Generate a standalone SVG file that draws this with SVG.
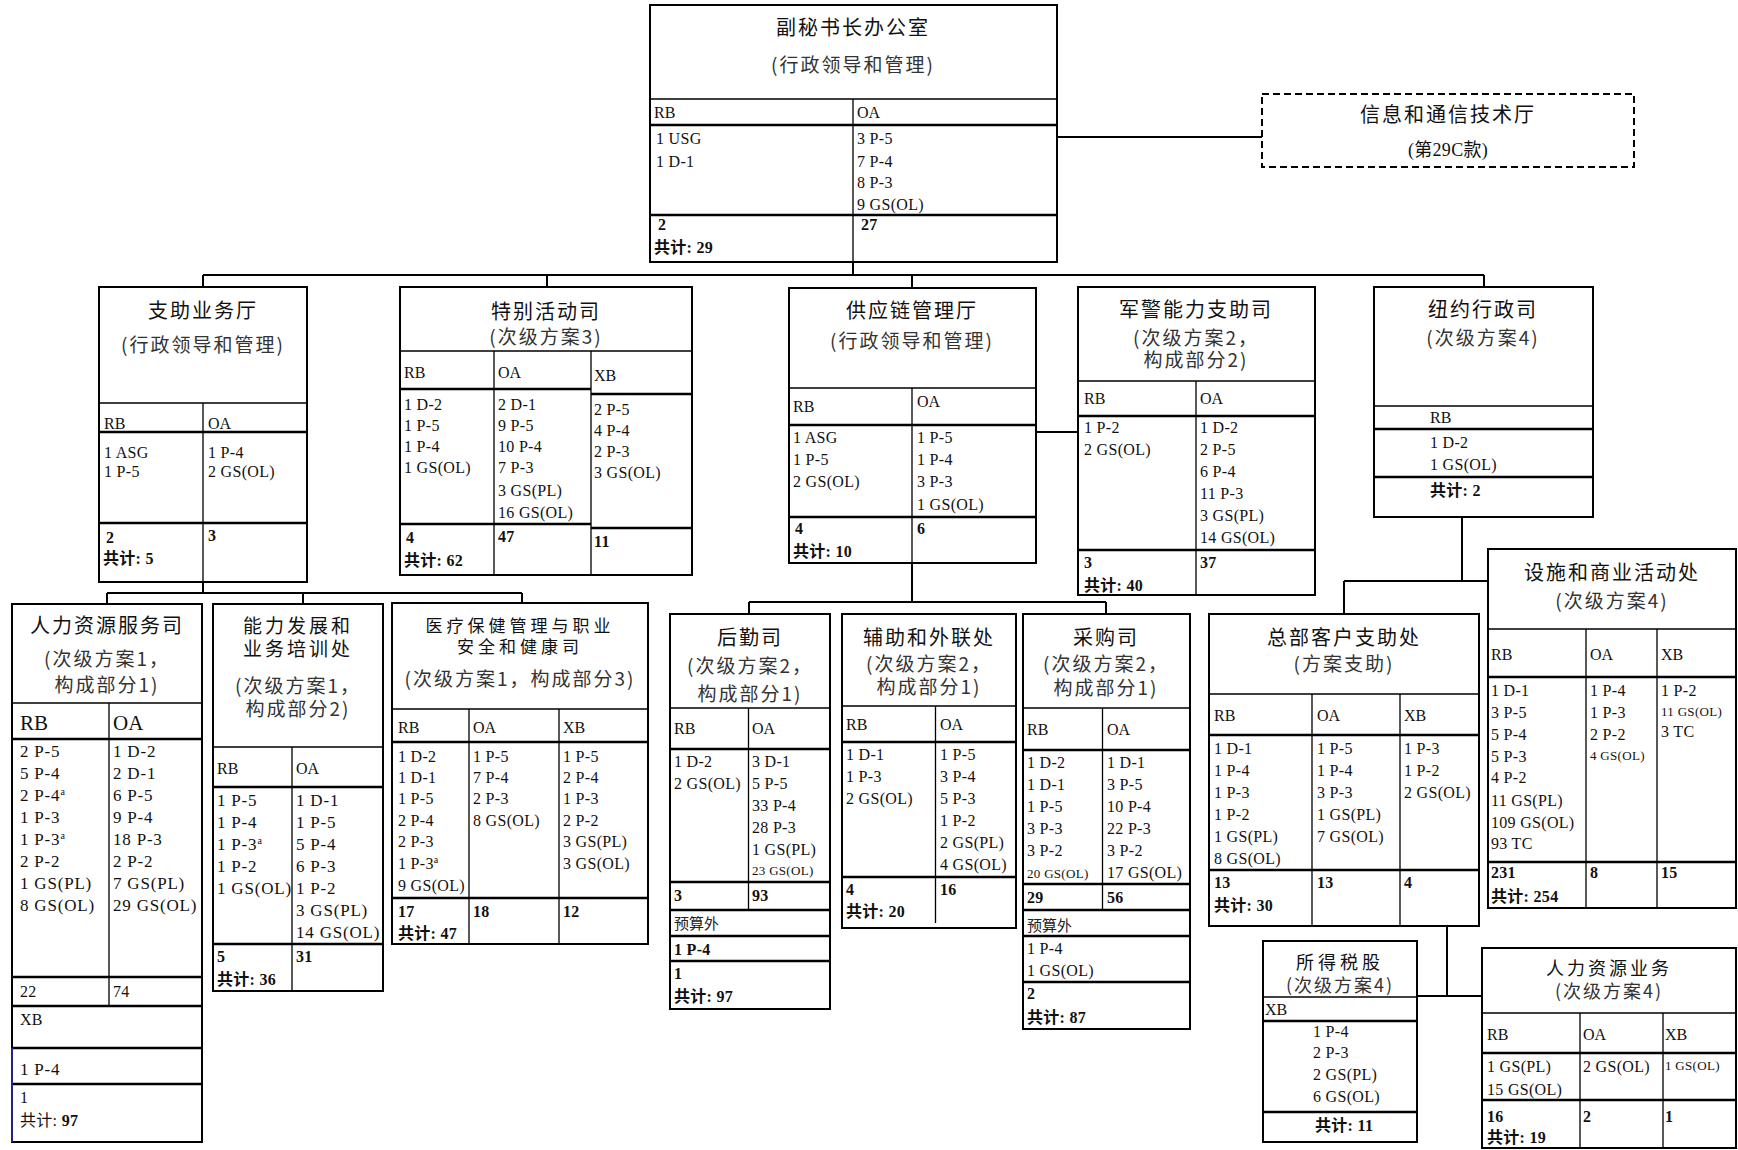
<svg xmlns="http://www.w3.org/2000/svg" width="1738" height="1150" viewBox="0 0 1738 1150">
<style>
.bx{fill:#fff;stroke:#000;stroke-width:2}
.ln{fill:none;stroke:#000;stroke-width:1.3}
.lt{fill:none;stroke:#000;stroke-width:2.6}
.cn{fill:none;stroke:#000;stroke-width:2}
.t{font-family:"Noto Sans CJK SC",sans-serif;font-size:20px;letter-spacing:2px;text-anchor:middle;fill:#111}
.s{font-family:"Noto Sans CJK SC",sans-serif;font-size:19px;letter-spacing:2px;text-anchor:middle;fill:#333}
.h{font-family:"Liberation Serif",serif;font-size:16px;fill:#111}
.d{font-family:"Liberation Serif","Noto Sans CJK SC",serif;font-size:16px;letter-spacing:0.3px;fill:#111}
.sm{font-size:13px}
.bd{font-weight:bold}
.lg{font-size:17px;letter-spacing:0.8px}
.hl{font-size:21px}
.cj{font-family:"Noto Sans CJK SC",sans-serif;font-size:15px;fill:#222}
</style>
<rect width="1738" height="1150" fill="#fff"/>
<g id="connectors">
<path class="cn" d="M853 262V275M203 275H1484M203 275V287M547 275V287M912 275V288M1484 275V287"/>
<path class="cn" d="M1057 137H1262"/>
<path class="cn" d="M1036 432H1078"/>
<path class="cn" d="M203 582V593M107 593H522M107 593V604M303 593V604M522 593V603"/>
<path class="cn" d="M912 563V602M749 602H1106M749 602V614M1106 602V614"/>
<path class="cn" d="M1462 517V581M1344 581H1488M1344 581V614"/>
<path class="cn" d="M1447 926V996M1417 996H1482"/>
</g>
<g id="n-usg">
<rect class="bx" x="650" y="5" width="407" height="257"/>
<path class="ln" d="M650 99H1057M853 99V262"/>
<path class="lt" d="M650 125H1057M650 215H1057"/>
<text class="t" x="853" y="35">副秘书长办公室</text>
<text class="s" x="853" y="72">(行政领导和管理)</text>
<text class="h" x="654" y="118">RB</text>
<text class="h" x="857" y="118">OA</text>
<text class="d"><tspan x="656" y="144">1 USG</tspan><tspan x="656" y="167">1 D-1</tspan></text>
<text class="d"><tspan x="857" y="144">3 P-5</tspan><tspan x="857" y="167">7 P-4</tspan><tspan x="857" y="188">8 P-3</tspan><tspan x="857" y="210">9 GS(OL)</tspan></text>
<text class="d bd" x="658" y="230">2</text>
<text class="d bd" x="861" y="230">27</text>
<text class="d bd" x="654" y="253">共计: 29</text>
</g>
<g id="n-ict">
<rect x="1262" y="94" width="372" height="73" fill="#fff" stroke="#000" stroke-width="2" stroke-dasharray="7 4"/>
<text class="t" x="1448" y="122">信息和通信技术厅</text>
<text class="d" x="1448" y="156" text-anchor="middle" style="font-size:18px">(第29C款)</text>
</g>
<g id="n-support">
<rect class="bx" x="99" y="287" width="208" height="295"/>
<path class="ln" d="M99 403H307M203 403V582"/>
<path class="lt" d="M99 432H307M99 523H307"/>
<text class="t" x="203" y="318">支助业务厅</text>
<text class="s" x="203" y="352">(行政领导和管理)</text>
<text class="h" x="104" y="429">RB</text>
<text class="h" x="208" y="429">OA</text>
<text class="d"><tspan x="104" y="458">1 ASG</tspan><tspan x="104" y="477">1 P-5</tspan></text>
<text class="d"><tspan x="208" y="458">1 P-4</tspan><tspan x="208" y="477">2 GS(OL)</tspan></text>
<text class="d bd" x="106" y="543">2</text>
<text class="d bd" x="208" y="541">3</text>
<text class="d bd" x="103" y="564">共计: 5</text>
</g>
<g id="n-special">
<rect class="bx" x="400" y="287" width="292" height="288"/>
<path class="ln" d="M400 351H692M494 351V575M591 351V575"/>
<path class="lt" d="M400 389H591M591 394H692M400 524H591M591 528H692"/>
<text class="t" x="546" y="319">特别活动司</text>
<text class="s" x="546" y="344">(次级方案3)</text>
<text class="h" x="404" y="378">RB</text>
<text class="h" x="498" y="378">OA</text>
<text class="h" x="594" y="381">XB</text>
<text class="d"><tspan x="404" y="410">1 D-2</tspan><tspan x="404" y="431">1 P-5</tspan><tspan x="404" y="452">1 P-4</tspan><tspan x="404" y="473">1 GS(OL)</tspan></text>
<text class="d"><tspan x="498" y="410">2 D-1</tspan><tspan x="498" y="431">9 P-5</tspan><tspan x="498" y="452">10 P-4</tspan><tspan x="498" y="473">7 P-3</tspan><tspan x="498" y="496">3 GS(PL)</tspan><tspan x="498" y="518">16 GS(OL)</tspan></text>
<text class="d"><tspan x="594" y="415">2 P-5</tspan><tspan x="594" y="436">4 P-4</tspan><tspan x="594" y="457">2 P-3</tspan><tspan x="594" y="478">3 GS(OL)</tspan></text>
<text class="d bd" x="406" y="543">4</text>
<text class="d bd" x="498" y="542">47</text>
<text class="d bd" x="594" y="547">11</text>
<text class="d bd" x="404" y="566">共计: 62</text>
</g>
<g id="n-supply">
<rect class="bx" x="789" y="288" width="247" height="275"/>
<path class="ln" d="M789 388H1036M912 388V563"/>
<path class="lt" d="M789 425H1036M789 517H1036"/>
<text class="t" x="912" y="318">供应链管理厅</text>
<text class="s" x="912" y="348">(行政领导和管理)</text>
<text class="h" x="793" y="412">RB</text>
<text class="h" x="917" y="407">OA</text>
<text class="d"><tspan x="793" y="443">1 ASG</tspan><tspan x="793" y="465">1 P-5</tspan><tspan x="793" y="487">2 GS(OL)</tspan></text>
<text class="d"><tspan x="917" y="443">1 P-5</tspan><tspan x="917" y="465">1 P-4</tspan><tspan x="917" y="487">3 P-3</tspan><tspan x="917" y="510">1 GS(OL)</tspan></text>
<text class="d bd" x="795" y="534">4</text>
<text class="d bd" x="917" y="534">6</text>
<text class="d bd" x="793" y="557">共计: 10</text>
</g>
<g id="n-police">
<rect class="bx" x="1078" y="287" width="237" height="308"/>
<path class="ln" d="M1078 381H1315M1196 381V595"/>
<path class="lt" d="M1078 416H1315M1078 550H1315"/>
<text class="t" x="1196" y="317">军警能力支助司</text>
<text class="s" x="1196" y="345">(次级方案2，</text>
<text class="s" x="1196" y="367">构成部分2)</text>
<text class="h" x="1084" y="404">RB</text>
<text class="h" x="1200" y="404">OA</text>
<text class="d"><tspan x="1084" y="433">1 P-2</tspan><tspan x="1084" y="455">2 GS(OL)</tspan></text>
<text class="d"><tspan x="1200" y="433">1 D-2</tspan><tspan x="1200" y="455">2 P-5</tspan><tspan x="1200" y="477">6 P-4</tspan><tspan x="1200" y="499">11 P-3</tspan><tspan x="1200" y="521">3 GS(PL)</tspan><tspan x="1200" y="543">14 GS(OL)</tspan></text>
<text class="d bd" x="1084" y="568">3</text>
<text class="d bd" x="1200" y="568">37</text>
<text class="d bd" x="1084" y="591">共计: 40</text>
</g>
<g id="n-ny">
<rect class="bx" x="1374" y="287" width="219" height="230"/>
<path class="ln" d="M1374 406H1593"/>
<path class="lt" d="M1374 429H1593M1374 477H1593"/>
<text class="t" x="1483" y="317">纽约行政司</text>
<text class="s" x="1483" y="345">(次级方案4)</text>
<text class="h" x="1430" y="423">RB</text>
<text class="d"><tspan x="1430" y="448">1 D-2</tspan><tspan x="1430" y="470">1 GS(OL)</tspan></text>
<text class="d bd" x="1430" y="496">共计: 2</text>
</g>
<g id="n-hr">
<rect class="bx" x="12" y="604" width="190" height="538"/>
<path class="ln" d="M12 703H202M109 703V1006"/>
<path class="lt" d="M12 739H202M12 977H202M12 1006H202M12 1048H202M12 1084H202"/>
<path d="M12 1048V1142" stroke="#22228a" stroke-width="2"/>
<text class="t" x="107" y="633">人力资源服务司</text>
<text class="s" x="107" y="666">(次级方案1，</text>
<text class="s" x="107" y="692">构成部分1)</text>
<text class="h hl" x="20" y="730">RB</text>
<text class="h hl" x="113" y="730">OA</text>
<text class="d lg"><tspan x="20" y="757">2 P-5</tspan><tspan x="20" y="779">5 P-4</tspan><tspan x="20" y="801">2 P-4<tspan font-size="10" dy="-6">a</tspan></tspan><tspan x="20" y="823">1 P-3</tspan><tspan x="20" y="845">1 P-3<tspan font-size="10" dy="-6">a</tspan></tspan><tspan x="20" y="867">2 P-2</tspan><tspan x="20" y="889">1 GS(PL)</tspan><tspan x="20" y="911">8 GS(OL)</tspan></text>
<text class="d lg"><tspan x="113" y="757">1 D-2</tspan><tspan x="113" y="779">2 D-1</tspan><tspan x="113" y="801">6 P-5</tspan><tspan x="113" y="823">9 P-4</tspan><tspan x="113" y="845">18 P-3</tspan><tspan x="113" y="867">2 P-2</tspan><tspan x="113" y="889">7 GS(PL)</tspan><tspan x="113" y="911">29 GS(OL)</tspan></text>
<text class="d" x="20" y="997">22</text>
<text class="d" x="113" y="997">74</text>
<text class="d" x="20" y="1025">XB</text>
<text class="d lg" x="20" y="1075">1 P-4</text>
<text class="d" x="20" y="1103">1</text>
<text class="d" x="20" y="1126">共计: <tspan class="bd">97</tspan></text>
</g>
<g id="n-capacity">
<rect class="bx" x="213" y="604" width="170" height="387"/>
<path class="ln" d="M213 747H383M292 747V991"/>
<path class="lt" d="M213 787H383M213 944H383"/>
<text class="t" x="298" y="633" style="font-size:19px;letter-spacing:3px">能力发展和</text>
<text class="t" x="298" y="656" style="font-size:19px;letter-spacing:3px">业务培训处</text>
<text class="s" x="298" y="693">(次级方案1，</text>
<text class="s" x="298" y="716">构成部分2)</text>
<text class="h" x="217" y="774">RB</text>
<text class="h" x="296" y="774">OA</text>
<text class="d lg"><tspan x="217" y="806">1 P-5</tspan><tspan x="217" y="828">1 P-4</tspan><tspan x="217" y="850">1 P-3<tspan font-size="10" dy="-6">a</tspan></tspan><tspan x="217" y="872">1 P-2</tspan><tspan x="217" y="894">1 GS(OL)</tspan></text>
<text class="d lg"><tspan x="296" y="806">1 D-1</tspan><tspan x="296" y="828">1 P-5</tspan><tspan x="296" y="850">5 P-4</tspan><tspan x="296" y="872">6 P-3</tspan><tspan x="296" y="894">1 P-2</tspan><tspan x="296" y="916">3 GS(PL)</tspan><tspan x="296" y="938">14 GS(OL)</tspan></text>
<text class="d bd" x="217" y="962">5</text>
<text class="d bd" x="296" y="962">31</text>
<text class="d bd" x="217" y="985">共计: 36</text>
</g>
<g id="n-medical">
<rect class="bx" x="392" y="603" width="256" height="341"/>
<path class="ln" d="M392 709H648M469 709V944M559 709V944"/>
<path class="lt" d="M392 742H648M392 898H648"/>
<text class="t" x="520" y="632" style="font-size:17px;letter-spacing:4px">医疗保健管理与职业</text>
<text class="t" x="520" y="653" style="font-size:17px;letter-spacing:4px">安全和健康司</text>
<text class="s" x="520" y="686">(次级方案1，构成部分3)</text>
<text class="h" x="398" y="733">RB</text>
<text class="h" x="473" y="733">OA</text>
<text class="h" x="563" y="733">XB</text>
<text class="d"><tspan x="398" y="762">1 D-2</tspan><tspan x="398" y="783">1 D-1</tspan><tspan x="398" y="804">1 P-5</tspan><tspan x="398" y="826">2 P-4</tspan><tspan x="398" y="847">2 P-3</tspan><tspan x="398" y="869">1 P-3<tspan font-size="10" dy="-6">a</tspan></tspan><tspan x="398" y="891">9 GS(OL)</tspan></text>
<text class="d"><tspan x="473" y="762">1 P-5</tspan><tspan x="473" y="783">7 P-4</tspan><tspan x="473" y="804">2 P-3</tspan><tspan x="473" y="826">8 GS(OL)</tspan></text>
<text class="d"><tspan x="563" y="762">1 P-5</tspan><tspan x="563" y="783">2 P-4</tspan><tspan x="563" y="804">1 P-3</tspan><tspan x="563" y="826">2 P-2</tspan><tspan x="563" y="847">3 GS(PL)</tspan><tspan x="563" y="869">3 GS(OL)</tspan></text>
<text class="d bd" x="398" y="917">17</text>
<text class="d bd" x="473" y="917">18</text>
<text class="d bd" x="563" y="917">12</text>
<text class="d bd" x="398" y="939">共计: 47</text>
</g>
<g id="n-logistics">
<rect class="bx" x="670" y="614" width="160" height="395"/>
<path class="ln" d="M670 708H830M748.5 708V910"/>
<path class="lt" d="M670 749H830M670 882H830M670 910H830M670 936H830M670 961H830"/>
<text class="t" x="750" y="645">后勤司</text>
<text class="s" x="750" y="673">(次级方案2，</text>
<text class="s" x="750" y="701">构成部分1)</text>
<text class="h" x="674" y="734">RB</text>
<text class="h" x="752" y="734">OA</text>
<text class="d"><tspan x="674" y="767">1 D-2</tspan><tspan x="674" y="789">2 GS(OL)</tspan></text>
<text class="d"><tspan x="752" y="767">3 D-1</tspan><tspan x="752" y="789">5 P-5</tspan><tspan x="752" y="811">33 P-4</tspan><tspan x="752" y="833">28 P-3</tspan><tspan x="752" y="855">1 GS(PL)</tspan><tspan x="752" y="875" class="sm">23 GS(OL)</tspan></text>
<text class="d bd" x="674" y="901">3</text>
<text class="d bd" x="752" y="901">93</text>
<text class="cj" x="674" y="929">预算外</text>
<text class="d bd" x="674" y="955">1 P-4</text>
<text class="d bd" x="674" y="979">1</text>
<text class="d bd" x="674" y="1002">共计: 97</text>
</g>
<g id="n-auxiliary">
<rect class="bx" x="842" y="614" width="174" height="314"/>
<path class="ln" d="M842 706H1016M935.5 706V923"/>
<path class="lt" d="M842 742H1016M842 877H1016"/>
<text class="t" x="929" y="645">辅助和外联处</text>
<text class="s" x="929" y="671">(次级方案2，</text>
<text class="s" x="929" y="694">构成部分1)</text>
<text class="h" x="846" y="730">RB</text>
<text class="h" x="940" y="730">OA</text>
<text class="d"><tspan x="846" y="760">1 D-1</tspan><tspan x="846" y="782">1 P-3</tspan><tspan x="846" y="804">2 GS(OL)</tspan></text>
<text class="d"><tspan x="940" y="760">1 P-5</tspan><tspan x="940" y="782">3 P-4</tspan><tspan x="940" y="804">5 P-3</tspan><tspan x="940" y="826">1 P-2</tspan><tspan x="940" y="848">2 GS(PL)</tspan><tspan x="940" y="870">4 GS(OL)</tspan></text>
<text class="d bd" x="846" y="895">4</text>
<text class="d bd" x="940" y="895">16</text>
<text class="d bd" x="846" y="917">共计: 20</text>
</g>
<g id="n-procurement">
<rect class="bx" x="1023" y="614" width="167" height="415"/>
<path class="ln" d="M1023 708H1190M1102.5 708V910"/>
<path class="lt" d="M1023 750H1190M1023 884H1190M1023 910H1190M1023 936H1190M1023 982H1190"/>
<text class="t" x="1106" y="645">采购司</text>
<text class="s" x="1106" y="671">(次级方案2，</text>
<text class="s" x="1106" y="695">构成部分1)</text>
<text class="h" x="1027" y="735">RB</text>
<text class="h" x="1107" y="735">OA</text>
<text class="d"><tspan x="1027" y="768">1 D-2</tspan><tspan x="1027" y="790">1 D-1</tspan><tspan x="1027" y="812">1 P-5</tspan><tspan x="1027" y="834">3 P-3</tspan><tspan x="1027" y="856">3 P-2</tspan><tspan x="1027" y="878" class="sm">20 GS(OL)</tspan></text>
<text class="d"><tspan x="1107" y="768">1 D-1</tspan><tspan x="1107" y="790">3 P-5</tspan><tspan x="1107" y="812">10 P-4</tspan><tspan x="1107" y="834">22 P-3</tspan><tspan x="1107" y="856">3 P-2</tspan><tspan x="1107" y="878">17 GS(OL)</tspan></text>
<text class="d bd" x="1027" y="903">29</text>
<text class="d bd" x="1107" y="903">56</text>
<text class="cj" x="1027" y="931" fill="#555">预算外</text>
<text class="d"><tspan x="1027" y="954">1 P-4</tspan><tspan x="1027" y="976">1 GS(OL)</tspan></text>
<text class="d bd" x="1027" y="999">2</text>
<text class="d bd" x="1027" y="1023">共计: 87</text>
</g>
<g id="n-hq">
<rect class="bx" x="1209" y="614" width="270" height="312"/>
<path class="ln" d="M1209 694H1479M1312 694V926M1400 694V926"/>
<path class="lt" d="M1209 735H1479M1209 870H1479"/>
<text class="t" x="1344" y="645">总部客户支助处</text>
<text class="s" x="1344" y="671">(方案支助)</text>
<text class="h" x="1214" y="721">RB</text>
<text class="h" x="1317" y="721">OA</text>
<text class="h" x="1404" y="721">XB</text>
<text class="d"><tspan x="1214" y="754">1 D-1</tspan><tspan x="1214" y="776">1 P-4</tspan><tspan x="1214" y="798">1 P-3</tspan><tspan x="1214" y="820">1 P-2</tspan><tspan x="1214" y="842">1 GS(PL)</tspan><tspan x="1214" y="864">8 GS(OL)</tspan></text>
<text class="d"><tspan x="1317" y="754">1 P-5</tspan><tspan x="1317" y="776">1 P-4</tspan><tspan x="1317" y="798">3 P-3</tspan><tspan x="1317" y="820">1 GS(PL)</tspan><tspan x="1317" y="842">7 GS(OL)</tspan></text>
<text class="d"><tspan x="1404" y="754">1 P-3</tspan><tspan x="1404" y="776">1 P-2</tspan><tspan x="1404" y="798">2 GS(OL)</tspan></text>
<text class="d bd" x="1214" y="888">13</text>
<text class="d bd" x="1317" y="888">13</text>
<text class="d bd" x="1404" y="888">4</text>
<text class="d bd" x="1214" y="911">共计: 30</text>
</g>
<g id="n-facilities">
<rect class="bx" x="1488" y="549" width="248" height="359"/>
<path class="ln" d="M1488 629H1736M1586 629V908M1657 629V908"/>
<path class="lt" d="M1488 677H1736M1488 862H1736"/>
<text class="t" x="1612" y="580">设施和商业活动处</text>
<text class="s" x="1612" y="608">(次级方案4)</text>
<text class="h" x="1491" y="660">RB</text>
<text class="h" x="1590" y="660">OA</text>
<text class="h" x="1661" y="660">XB</text>
<text class="d"><tspan x="1491" y="696">1 D-1</tspan><tspan x="1491" y="718">3 P-5</tspan><tspan x="1491" y="740">5 P-4</tspan><tspan x="1491" y="762">5 P-3</tspan><tspan x="1491" y="783">4 P-2</tspan><tspan x="1491" y="806">11 GS(PL)</tspan><tspan x="1491" y="828">109 GS(OL)</tspan><tspan x="1491" y="849">93 TC</tspan></text>
<text class="d"><tspan x="1590" y="696">1 P-4</tspan><tspan x="1590" y="718">1 P-3</tspan><tspan x="1590" y="740">2 P-2</tspan><tspan x="1590" y="760" class="sm">4 GS(OL)</tspan></text>
<text class="d"><tspan x="1661" y="696">1 P-2</tspan><tspan x="1661" y="716" class="sm">11 GS(OL)</tspan><tspan x="1661" y="737">3 TC</tspan></text>
<text class="d bd" x="1491" y="878">231</text>
<text class="d bd" x="1590" y="878">8</text>
<text class="d bd" x="1661" y="878">15</text>
<text class="d bd" x="1491" y="902">共计: 254</text>
</g>
<g id="n-tax">
<rect class="bx" x="1263" y="941" width="154" height="201"/>
<path class="ln" d="M1263 997H1417"/>
<path class="lt" d="M1263 1021H1417M1263 1112H1417"/>
<text class="t" x="1340" y="969" style="font-size:18px;letter-spacing:4px">所得税股</text>
<text class="s" x="1340" y="992" style="font-size:18px">(次级方案4)</text>
<text class="h" x="1265" y="1015">XB</text>
<text class="d"><tspan x="1313" y="1037">1 P-4</tspan><tspan x="1313" y="1058">2 P-3</tspan><tspan x="1313" y="1080">2 GS(PL)</tspan><tspan x="1313" y="1102">6 GS(OL)</tspan></text>
<text class="d bd" x="1315" y="1131">共计: 11</text>
</g>
<g id="n-hrops">
<rect class="bx" x="1482" y="948" width="254" height="200"/>
<path class="ln" d="M1482 1013H1736M1580 1013V1148M1663 1013V1148"/>
<path class="lt" d="M1482 1053H1736M1482 1100H1736"/>
<text class="t" x="1609" y="975" style="font-size:18px;letter-spacing:3px">人力资源业务</text>
<text class="s" x="1609" y="998" style="font-size:18px">(次级方案4)</text>
<text class="h" x="1487" y="1040">RB</text>
<text class="h" x="1583" y="1040">OA</text>
<text class="h" x="1665" y="1040">XB</text>
<text class="d"><tspan x="1487" y="1072">1 GS(PL)</tspan><tspan x="1487" y="1095">15 GS(OL)</tspan></text>
<text class="d" x="1583" y="1072">2 GS(OL)</text>
<text class="d sm" x="1665" y="1070">1 GS(OL)</text>
<text class="d bd" x="1487" y="1122">16</text>
<text class="d bd" x="1583" y="1122">2</text>
<text class="d bd" x="1665" y="1122">1</text>
<text class="d bd" x="1487" y="1143">共计: 19</text>
</g>
</svg>
